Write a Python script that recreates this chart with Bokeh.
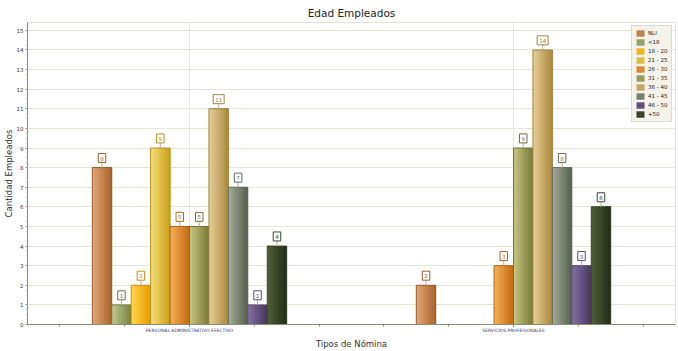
import numpy as np
from bokeh.plotting import figure
from bokeh.models import ColumnDataSource, Legend, LegendItem, FixedTicker, Range1d
from bokeh.embed import file_html
from bokeh.resources import INLINE
from bokeh.core.properties import value

# ---------------- data ----------------
categories = ["PERSONAL ADMINISTRATIVO EFECTIVO", "SERVICIOS PROFESIONALES"]
series = ["NLI", "<18", "18 - 20", "21 - 25", "26 - 30", "31 - 35", "36 - 40", "41 - 45", "46 - 50", "+50"]
personal_vals = [8, 1, 2, 9, 5, 5, 11, 7, 1, 4]
servicios_vals = [2, 0, 0, 0, 3, 9, 14, 8, 3, 6]
y_ticks = list(range(0, 16))

# ---------------- style ----------------
light = ["#DDA474", "#BCC48C", "#FFD24A", "#F2DA74", "#F2AC54", "#C2C27E", "#E2CC94", "#A0A898", "#7E6E9E", "#505C38"]
dark = ["#AE6630", "#7A8646", "#E6A000", "#CCA41C", "#C66E16", "#7E7E3E", "#AC8C3E", "#5A6252", "#4A3A62", "#262E18"]
edge = ["#9A5A2A", "#6C7840", "#C89010", "#B89020", "#B06418", "#707038", "#A08440", "#666C5E", "#5A4C70", "#3C4430"]
FONT = "DejaVu Sans"
N_STRIPS = 8
BAR_W = 0.06


def mix(c1, c2, t):
    a = [int(c1[i:i + 2], 16) for i in (1, 3, 5)]
    b = [int(c2[i:i + 2], 16) for i in (1, 3, 5)]
    return "#%02x%02x%02x" % tuple(int(round(a[k] + (b[k] - a[k]) * t)) for k in range(3))


p = figure(width=678, height=351, output_backend="svg", toolbar_location=None,
           x_range=Range1d(0, 2), y_range=Range1d(0, 15.4),
           min_border_left=0, min_border_right=3, min_border_top=22, min_border_bottom=0)

p.title.text = "Edad Empleados"
p.title.align = "center"
p.title.text_font = FONT
p.title.text_font_size = "10.5px"
p.title.text_font_style = "normal"
p.title.text_color = "#222222"
p.title.standoff = 8

p.background_fill_color = "white"
p.border_fill_color = "white"
p.outline_line_color = "#E2E2D2"

# grids
p.ygrid.ticker = FixedTicker(ticks=y_ticks)
p.ygrid.grid_line_color = "#E6E6D4"
p.ygrid.grid_line_width = 1
p.xgrid.ticker = FixedTicker(ticks=[0.5, 1.5])
p.xgrid.grid_line_color = "#E6E6D8"

# y axis
p.yaxis.ticker = FixedTicker(ticks=y_ticks, minor_ticks=list(np.arange(0, 15.5, 0.25)))
p.yaxis.axis_label = "Cantidad Empleados"
p.yaxis.axis_label_text_font = FONT
p.yaxis.axis_label_text_font_size = "8.5px"
p.yaxis.axis_label_text_font_style = "normal"
p.yaxis.axis_label_text_color = "#333333"
p.yaxis.axis_label_standoff = 0
p.yaxis.major_label_text_font = FONT
p.yaxis.major_label_text_font_size = "5.5px"
p.yaxis.major_label_text_color = "#333344"
p.yaxis.major_label_standoff = 2
p.yaxis.axis_line_color = "#8A8C74"
p.yaxis.major_tick_line_color = "#8A8C74"
p.yaxis.minor_tick_line_color = "#A8AA94"
p.yaxis.major_tick_out = 2
p.yaxis.major_tick_in = 0
p.yaxis.minor_tick_out = 1
p.yaxis.minor_tick_in = 0

# x axis
p.xaxis.ticker = FixedTicker(ticks=[0.5, 1.5], minor_ticks=list(np.arange(0.1, 2.0, 0.2)))
p.xaxis.major_label_overrides = {0.5: categories[0], 1.5: categories[1]}
p.xaxis.axis_label = "Tipos de Nómina"
p.xaxis.axis_label_text_font = FONT
p.xaxis.axis_label_text_font_size = "8.5px"
p.xaxis.axis_label_text_font_style = "normal"
p.xaxis.axis_label_text_color = "#333333"
p.xaxis.axis_label_standoff = 3
p.xaxis.major_label_text_font = FONT
p.xaxis.major_label_text_font_size = "4.5px"
p.xaxis.major_label_text_color = "#3A3A5A"
p.xaxis.major_label_standoff = 1
p.xaxis.axis_line_color = "#8A8C74"
p.xaxis.major_tick_line_color = "#8A8C74"
p.xaxis.minor_tick_line_color = "#8A8C74"
p.xaxis.major_tick_out = 2
p.xaxis.major_tick_in = 0
p.xaxis.minor_tick_out = 2
p.xaxis.minor_tick_in = 0

all_vals = [personal_vals, servicios_vals]
legend_items = []
for i, name in enumerate(series):
    offset = (i - (len(series) - 1) / 2) * BAR_W
    strips = dict(left=[], right=[], top=[], bottom=[], color=[])
    bars = dict(left=[], right=[], top=[], bottom=[], x=[], lab=[], ly=[], lt=[])
    for k in range(N_STRIPS):
        for c, vals in enumerate(all_vals):
            v = vals[i]
            if v <= 0:
                continue
            x0 = c + 0.5 + offset - BAR_W / 2
            strips["left"].append(x0 + k * BAR_W / N_STRIPS)
            strips["right"].append(x0 + BAR_W)
            strips["top"].append(v)
            strips["bottom"].append(0)
            strips["color"].append(mix(light[i], dark[i], k / (N_STRIPS - 1)))
    for c, vals in enumerate(all_vals):
        v = vals[i]
        if v <= 0:
            continue
        x0 = c + 0.5 + offset - BAR_W / 2
        bars["left"].append(x0)
        bars["right"].append(x0 + BAR_W)
        bars["top"].append(v)
        bars["bottom"].append(0)
        bars["x"].append(c + 0.5 + offset)
        bars["lab"].append(str(v))
        bars["ly"].append(v + 0.26)
        bars["lt"].append(v)
    ss = ColumnDataSource(strips)
    bs = ColumnDataSource(bars)
    sr = p.quad(left="left", right="right", top="top", bottom="bottom", source=ss,
                fill_color="color", line_color=None)
    p.quad(left="left", right="right", top="top", bottom="bottom", source=bs,
           fill_alpha=0, line_color=edge[i], line_width=1)
    p.segment(x0="x", y0="lt", x1="x", y1="ly", source=bs, line_color="#B8B0A0", line_width=1)
    p.text(x="x", y="ly", text="lab", source=bs, text_font=value(FONT), text_font_size="5.5px",
           text_color=edge[i], text_align="center", text_baseline="bottom",
           background_fill_color="white", border_line_color=edge[i], border_line_width=1,
           padding=2)
    n_bars = len(bars["x"])
    legend_items.append(LegendItem(label=name, renderers=[sr], index=(N_STRIPS // 2) * n_bars))

legend = Legend(items=legend_items, location="top_right",
                label_text_font=FONT, label_text_font_size="5.5px", label_text_color="#222222",
                glyph_height=8, glyph_width=10, label_height=8, spacing=1, padding=3,
                label_standoff=3, margin=3,
                background_fill_color="#F2F2EA", border_line_color="#C4C4B4", border_line_width=1)
p.add_layout(legend)

open("out.html", "w").write(file_html(p, INLINE))
